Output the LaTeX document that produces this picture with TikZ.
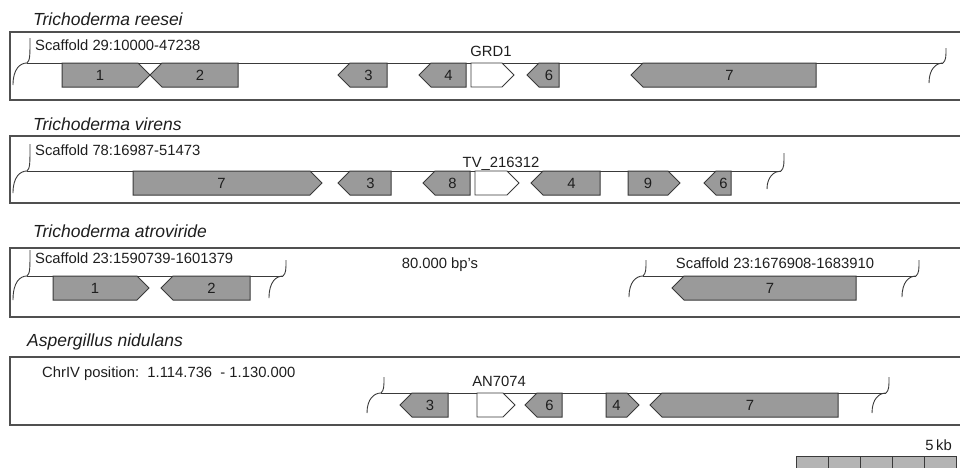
\documentclass[tikz,border=0pt]{standalone}
\usepackage{fontspec}
\setmainfont{Liberation Sans}
\usetikzlibrary{calc}
\definecolor{cgene}{HTML}{9A9A9A}
\definecolor{cline}{HTML}{3A3A3A}
\definecolor{cframe}{HTML}{505050}
\definecolor{cscale}{HTML}{B4B4B4}
\definecolor{ctext}{HTML}{1E1E1E}
\tikzset{
  every picture/.style={x=1pt, y=-1pt},
  frame/.style={draw=cframe, line width=1.6pt},
  scaf/.style={draw=cline, line width=0.9pt},
  gene/.style={draw=cline, fill=cgene, line width=1pt},
  genewhite/.style={draw=cline, fill=white, line width=0.8pt},
  gtext/.style={font=\fontsize{14.8}{16}\selectfont, text=ctext, inner sep=0pt},
  species/.style={font=\fontsize{17.5}{19}\selectfont\itshape, text=ctext, anchor=base west, inner sep=0pt},
  info/.style={gtext, anchor=base west},
  genename/.style={gtext, anchor=base},
  scalecell/.style={draw=cline, fill=cscale, line width=0.9pt},
}
% gene arrows: [style]{name}{body start}{body end}{top}{label}
\newcommand{\generright}[6][gene]{%
  \draw[#1] (#3,#5) -- (#4,#5) -- (#4+12,#5+12) -- (#4,#5+24) -- (#3,#5+24) -- cycle;
  \node[gtext, anchor=base] (#2) at ({(#3+#4)/2},#5+17) {#6};}
\newcommand{\geneleft}[6][gene]{%
  \draw[#1] (#3-12,#5+12) -- (#3,#5) -- (#4,#5) -- (#4,#5+24) -- (#3,#5+24) -- cycle;
  \node[gtext, anchor=base] (#2) at ({(#3+#4)/2},#5+17) {#6};}
% break mark: {x}{y}{stub}{arm}
\newcommand{\scafbreak}[4]{%
  \draw[scaf] (#1-14,#2+#4) .. controls (#1-14,#2+6) and (#1-7,#2) .. (#1,#2)
    .. controls (#1+3,#2-3) and (#1+3,#2-6) .. (#1+3,#2-#3);}

\begin{document}
\begin{tikzpicture}
  \useasboundingbox (0,0) rectangle (960,467);
  % Trichoderma reesei
  \node[species] (tre) at (33,25) {Trichoderma reesei};
  \draw[frame] (960,32) -| (10,100) -- (960,100);
  \node[info] (trescaf) at (35,50) {Scaffold 29:10000-47238};
  \draw[scaf] (27,63) -- (943,63);
  \scafbreak{27}{63}{25}{22}
  \scafbreak{943}{63}{15}{20}
  \generright{re1}{62}{138}{63}{1}
  \geneleft{re2}{162}{238}{63}{2}
  \geneleft{re3}{350}{387}{63}{3}
  \geneleft{re4}{431}{466}{63}{4}
  \generright[genewhite]{re5}{471}{502}{63}{}
  \geneleft{re6}{539}{559}{63}{6}
  \geneleft{re7}{643}{816}{63}{7}
  \node[genename] (grd) at (491,56) {GRD1};
  % Trichoderma virens
  \node[species] (tvi) at (33,130) {Trichoderma virens};
  \draw[frame] (960,136) -| (10,203) -- (960,203);
  \node[info] (tviscaf) at (35,155) {Scaffold 78:16987-51473};
  \draw[scaf] (27,171) -- (781,171);
  \scafbreak{27}{171}{27}{22}
  \scafbreak{781}{171}{18}{18}
  \generright{vi7}{133}{310}{171}{7}
  \geneleft{vi3}{350}{391}{171}{3}
  \geneleft{vi8}{435}{470}{171}{8}
  \generright[genewhite]{vi5}{475}{507}{171}{}
  \geneleft{vi4}{543}{600}{171}{4}
  \generright{vi9}{628}{668}{171}{9}
  \geneleft{vi6}{716}{731}{171}{6}
  \node[genename] (tv) at (501,167) {TV\_216312};
  % Trichoderma atroviride
  \node[species] (tat) at (33,237) {Trichoderma atroviride};
  \draw[frame] (960,248) -| (10,317) -- (960,317);
  \node[info] (tatscaf) at (35,263) {Scaffold 23:1590739-1601379};
  \draw[scaf] (27,276) -- (283,276);
  \scafbreak{27}{276}{26}{24}
  \scafbreak{283}{276}{16}{22}
  \generright{at1}{53}{137}{276}{1}
  \geneleft{at2}{173}{250}{276}{2}
  \node[genename] (gap) at (440,268) {80.000 bp's};
  \node[genename] (tatscafb) at (775,268) {Scaffold 23:1676908-1683910};
  \draw[scaf] (643,276) -- (916,276);
  \scafbreak{643}{276}{16}{21}
  \scafbreak{916}{276}{16}{21}
  \geneleft{at7}{684}{856}{276}{7}
  % Aspergillus nidulans
  \node[species] (ani) at (27,346) {Aspergillus nidulans};
  \draw[frame] (960,357) -| (10,425) -- (960,425);
  \node[info] (anichr) at (42,377) {ChrIV position:~~1.114.736~~-~1.130.000};
  \draw[scaf] (381,393) -- (886,393);
  \scafbreak{381}{393}{16}{20}
  \scafbreak{886}{393}{16}{20}
  \geneleft{an3}{412}{448}{393}{3}
  \generright[genewhite]{an5}{477}{503}{393}{}
  \geneleft{an6}{537}{562}{393}{6}
  \generright{an4}{606}{627}{393}{4}
  \geneleft{an7}{662}{838}{393}{7}
  \node[genename] (an) at (499,386) {AN7074};
  % scale bar
  \node[gtext, anchor=base east] (kb) at (952,450) {5\,kb};
  \foreach \i in {0,...,4}
    \draw[scalecell] (796+\i*32,456) rectangle ++(32,12);
\end{tikzpicture}
\end{document}
